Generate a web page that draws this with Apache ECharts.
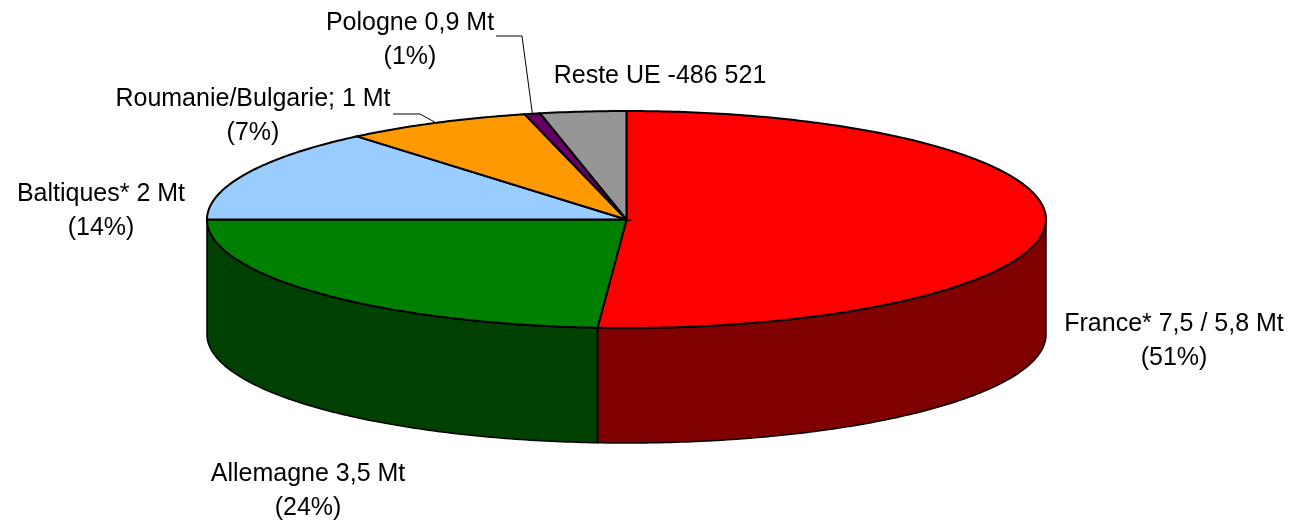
<!DOCTYPE html>
<html>
<head>
<meta charset="utf-8">
<style>
    html, body { margin: 0; padding: 0; background: #fff; }
    #chart { width: 1289px; height: 520px; }
</style>
<script src="https://cdn.jsdelivr.net/npm/echarts@6/dist/echarts.min.js"></script>
</head>
<body>
<div id="chart"></div>
<script>
'use strict';
// part de chaque zone en %
const categories = ['France', 'Allemagne', 'Baltiques', 'Roumanie/Bulgarie', 'Pologne', 'Reste UE'];
const shares = [51.1, 23.9, 13.9, 7.2, 0.6, 3.3];
const labels = [
    'France* 7,5 / 5,8 Mt\n(51%)',
    'Allemagne 3,5 Mt\n(24%)',
    'Baltiques* 2 Mt\n(14%)',
    'Roumanie/Bulgarie; 1 Mt\n(7%)',
    'Pologne 0,9 Mt\n(1%)',
    'Reste UE -486 521'
];
const colors = ['#ff0000', '#008000', '#99ccff', '#ff9900', '#660066', '#969696'];
const sideColors = ['#800000', '#004000', '#4d6680', '#804d00', '#330033', '#4b4b4b'];

// mise en page du camembert
const pie = { cx: 626.5, cy: 219.5, rx: 419.5, ry: 108.5, depth: 115 };
const labelPos = [
    [1174, 341], [308, 491], [101, 211], [253, 116], [410, 40], [660, 76.5]
];
// coudes des traits de rappel (seulement Roumanie et Pologne)
const leaders = { 3: [[393, 114], [420, 114]], 4: [[496, 36], [522, 36]] };

function point(t, extra) {
    return [
        pie.cx + pie.rx * Math.sin(t),
        pie.cy - pie.ry * Math.cos(t) + (extra || 0)
    ];
}

function arc(from, to, extra) {
    let pts = [];
    let steps = Math.max(2, Math.ceil((to - from) * 80));
    for (let i = 0; i <= steps; i++) {
        pts.push(point(from + (to - from) * i / steps, extra));
    }
    return pts;
}

function renderSlice(params, api) {
    let idx = params.dataIndex;
    let total = shares.reduce(function(a, b) { return a + b; }, 0);
    let before = shares.slice(0, idx).reduce(function(a, b) { return a + b; }, 0);
    let start = before / total * Math.PI * 2;
    let end = start + api.value(0) / total * Math.PI * 2;
    let children = [];

    // flanc visible, seulement la moitie avant
    let sideFrom = Math.max(start, Math.PI / 2);
    let sideTo = Math.min(end, Math.PI * 3 / 2);
    if (sideFrom < sideTo) {
        let top = arc(sideFrom, sideTo);
        let bottom = arc(sideFrom, sideTo, pie.depth).reverse();
        children.push({
            type: 'polygon',
            z2: 1,
            shape: { points: top.concat(bottom) },
            style: {
                fill: sideColors[idx],
                stroke: '#000',
                lineWidth: 1.5
            }
        });
    }

    children.push({
        type: 'polygon',
        z2: 2,
        shape: { points: [[pie.cx, pie.cy]].concat(arc(start, end)) },
        style: { fill: colors[idx], stroke: '#000', lineWidth: 2 }
    });

    if (leaders[idx]) {
        let mid = point((start + end) / 2);
        children.push({
            type: 'polyline',
            z2: 3,
            shape: { points: leaders[idx].concat([mid]) },
            style: { fill: null, stroke: '#000', lineWidth: 1 }
        });
    }

    children.push({
        type: 'text',
        z2: 4,
        x: labelPos[idx][0],
        y: labelPos[idx][1],
        style: {
            text: labels[idx],
            font: '25px "Liberation Sans", Arial, sans-serif',
            fill: '#000',
            align: 'center',
            verticalAlign: 'middle',
            lineHeight: 34
        }
    });

    return { type: 'group', children: children };
}

let myChart = echarts.init(document.getElementById('chart'), null, { renderer: 'canvas' });
myChart.setOption({
    animation: false,
    backgroundColor: '#fff',
    series: [{
        type: 'custom',
        coordinateSystem: 'none',
        name: 'UE',
        renderItem: renderSlice,
        data: shares.map(function(v, i) {
            return { name: categories[i], value: [v] };
        })
    }]
});
</script>
</body>
</html>
